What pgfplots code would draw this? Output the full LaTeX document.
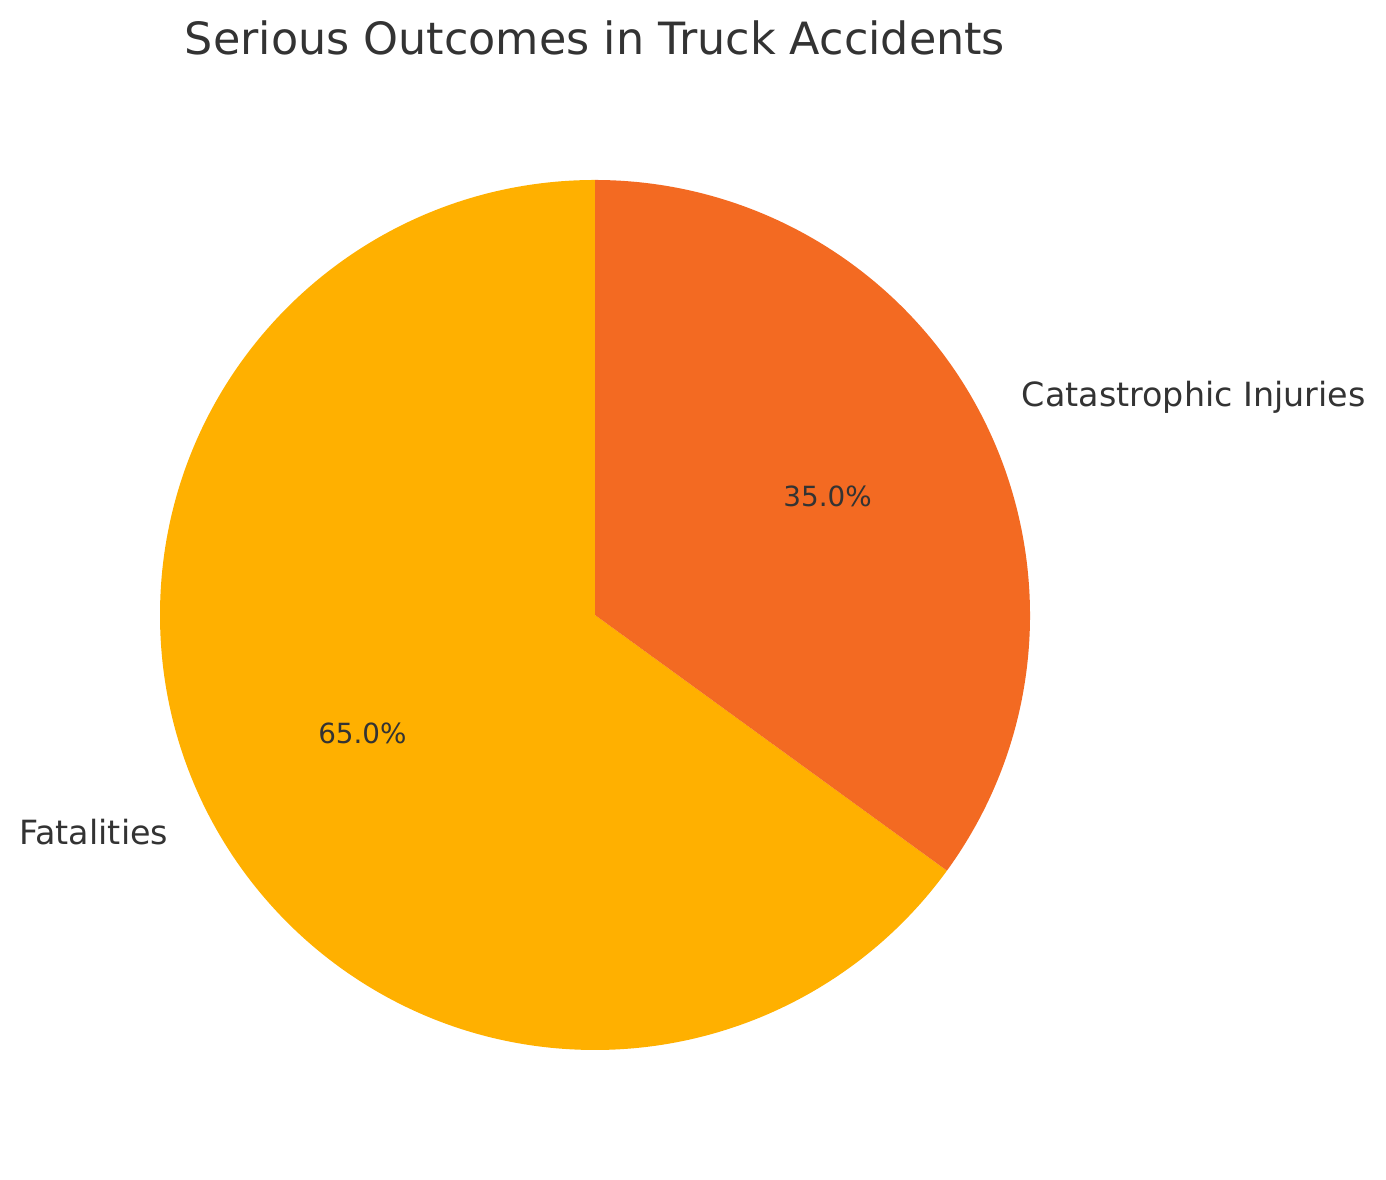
\documentclass[border=0pt]{standalone}
\usepackage{pgfplots}
\pgfplotsset{compat=1.18}
\usepackage{fontspec}
\setmainfont{DejaVu Sans}
\definecolor{fatal}{HTML}{FFB000}
\definecolor{catas}{HTML}{F36A22}
\definecolor{txt}{HTML}{333333}

% shares in percent
\def\valFat{65}
\def\valCat{35}
\pgfmathsetmacro\angA{90}
\pgfmathsetmacro\angB{\angA+3.6*\valFat}
\pgfmathsetmacro\angC{\angB+3.6*\valCat}
\pgfmathsetmacro\midA{(\angA+\angB)/2}
\pgfmathsetmacro\midB{(\angB+\angC)/2}
\def\R{156.6pt}

\begin{document}
\begin{tikzpicture}
\begin{axis}[
  scale only axis, width=498.96pt, height=424.8pt,
  xmin=0, xmax=1386, ymin=0, ymax=1180,
  hide axis, clip=false,
]
  \path (rel axis cs:0,0) rectangle (rel axis cs:1,1);
  \fill[fatal] (axis cs:595,565) -- ([shift={(\angA:\R)}]axis cs:595,565)
    arc[start angle=\angA, end angle=\angB, radius=\R] -- cycle;
  \fill[catas] (axis cs:595,565) -- ([shift={(\angB:\R)}]axis cs:595,565)
    arc[start angle=\angB, end angle=\angC, radius=\R] -- cycle;
  % labels at 1.1 R, percentages at 0.6 R
  \node[anchor=east, text=txt, font=\fontsize{12}{14}\selectfont, inner sep=0pt]
    at ([shift={(\midA:1.1*\R)}]axis cs:595,565) {Fatalities};
  \node[anchor=west, text=txt, font=\fontsize{12}{14}\selectfont, inner sep=0pt]
    at ([shift={(\midB:1.1*\R)}]axis cs:595,565) {Catastrophic Injuries};
  \node[text=txt, font=\fontsize{10}{12}\selectfont, inner sep=0pt]
    at ([shift={(\midA:0.6*\R)}]axis cs:595,565) {65.0\%};
  \node[text=txt, font=\fontsize{10}{12}\selectfont, inner sep=0pt]
    at ([shift={(\midB:0.6*\R)}]axis cs:595,565) {35.0\%};
  \node[anchor=base, text=txt, font=\fontsize{16}{19}\selectfont, inner sep=0pt]
    at (axis cs:595,1125) {Serious Outcomes in Truck Accidents};
\end{axis}
\end{tikzpicture}
\end{document}
